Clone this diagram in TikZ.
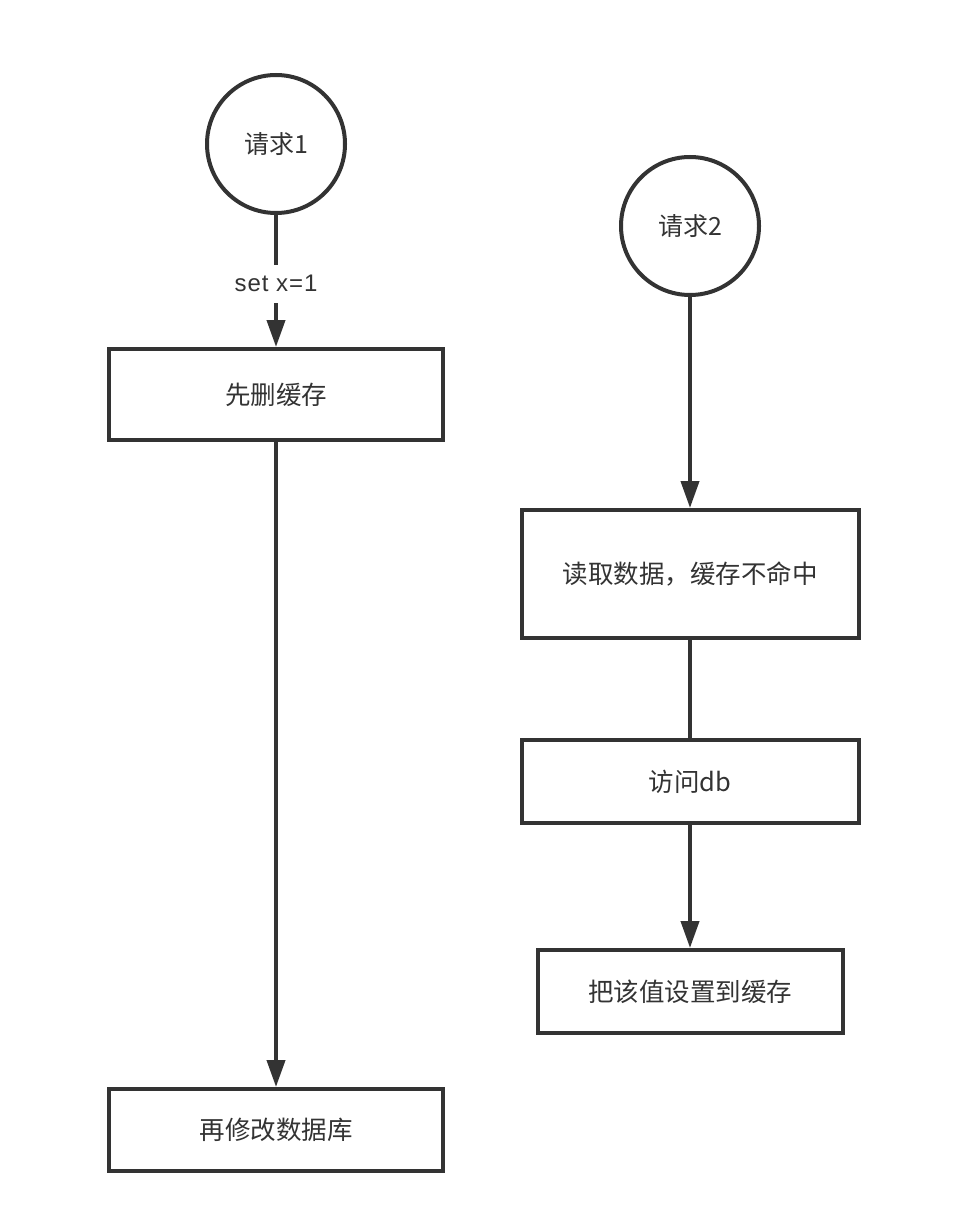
\documentclass[tikz,border=0pt]{standalone}
\usepackage{fontspec}
\setmainfont{Noto Sans CJK SC}
\newfontfamily\latinlbl[LetterSpace=4]{Liberation Sans}
\usetikzlibrary{arrows.meta}
\definecolor{ink}{HTML}{333333}
\tikzset{
  box/.style={draw=ink, line width=4pt, rectangle, text=ink, font=\fontsize{25.5}{30}\selectfont, inner sep=0pt},
  circ/.style={draw=ink, line width=4pt, circle, minimum size=138pt, text=ink, font=\fontsize{25}{30}\selectfont, inner sep=0pt},
  conn/.style={draw=ink, line width=4pt},
  arr/.style={conn, -{Triangle[width=18pt,length=27pt]}},
  lbl/.style={fill=white, text=ink, font=\latinlbl\fontsize{24}{28}\selectfont, inner sep=2pt, minimum height=38pt}
}
\begin{document}
\begin{tikzpicture}[x=1pt,y=-1pt]
\useasboundingbox (0,0) rectangle (954,1214);
\node[circ] (c1) at (276,144) {请求1};
\node[circ] (c2) at (690,226) {请求2};
\node[box, minimum width=334pt, minimum height=91pt] (b1) at (276,394.5) {先删缓存};
\node[box, minimum width=334pt, minimum height=82pt] (b2) at (276,1130) {再修改数据库};
\node[box, minimum width=337pt, minimum height=128pt] (b3) at (690,574) {读取数据，缓存不命中};
\node[box, minimum width=337pt, minimum height=83pt] (b4) at (690,781.5) {访问db};
\node[box, minimum width=305pt, minimum height=83pt] (b5) at (690,991.5) {把该值设置到缓存};
\draw[arr] (c1) -- node[lbl, pos=0.52] {set x=1} (b1);
\draw[arr] (b1) -- (b2);
\draw[arr] (c2) -- (b3);
\draw[conn] (b3) -- (b4);
\draw[arr] (b4) -- (b5);
\end{tikzpicture}
\end{document}
